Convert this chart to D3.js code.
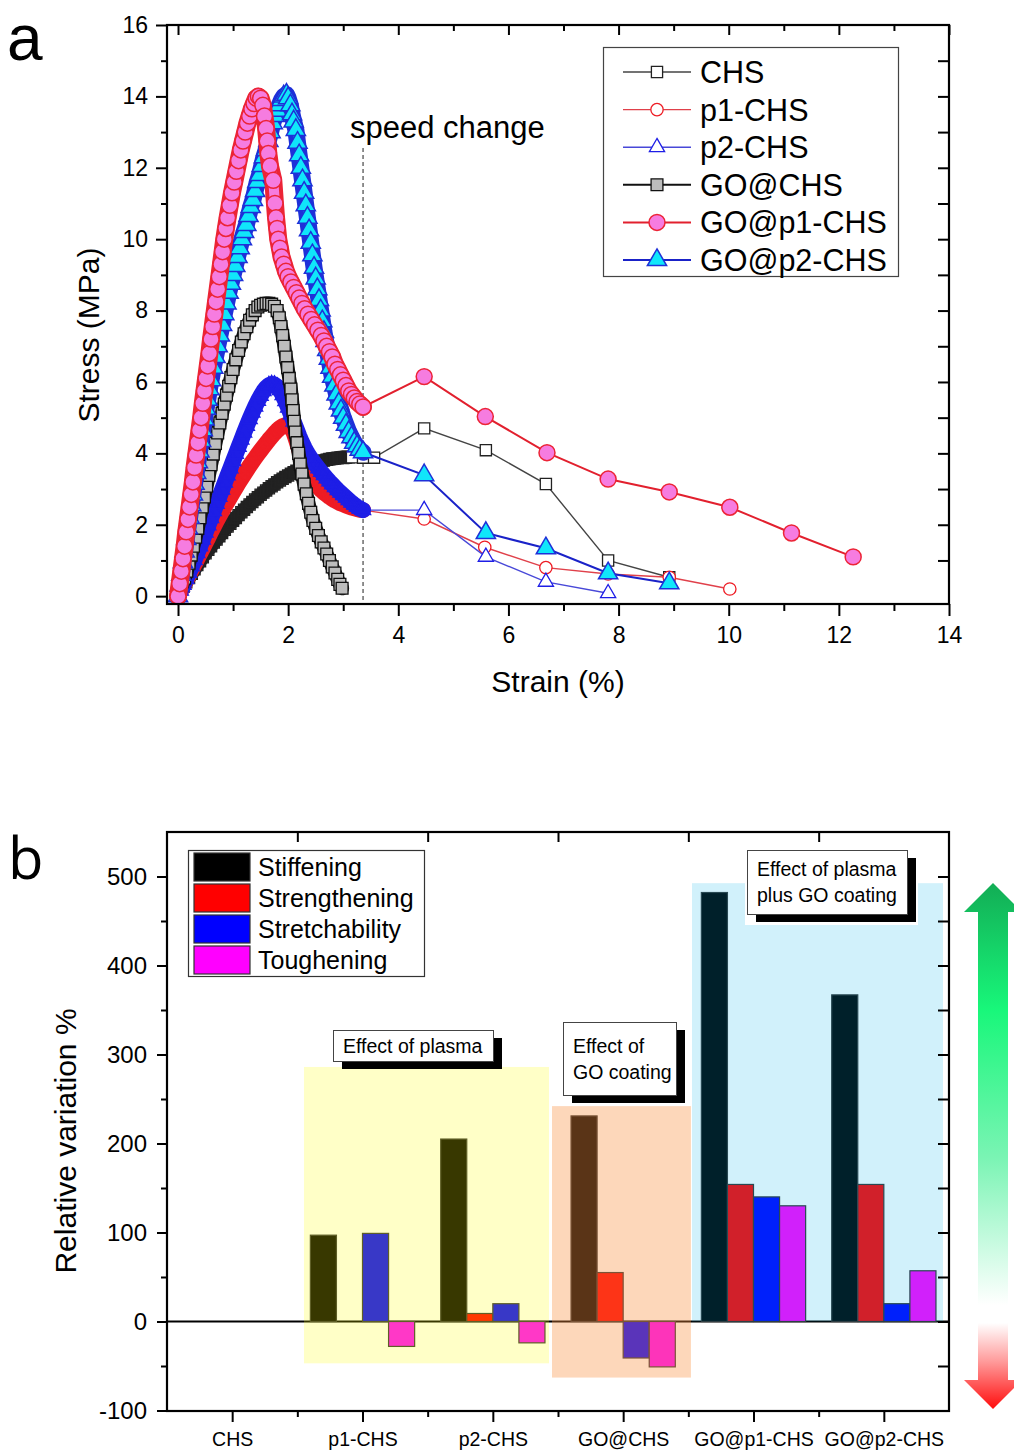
<!DOCTYPE html>
<html lang="en">
<head>
<meta charset="utf-8">
<title>Stress-strain curves and relative variation</title>
<script src="https://d3js.org/d3.v7.min.js"></script>
<style>
  body { margin: 0; background: #fff; }
  svg text { font-family: "Liberation Sans", Arial, sans-serif; fill: #000; }
</style>
</head>
<body>
<svg id="fig" width="1014" height="1452"></svg>
<script>
// ---------- panel a : stress (MPa) vs strain (%) ----------
const chs = [[0,0],[0.05,0.13],[0.1,0.26],[0.15,0.39],[0.2,0.51],[0.25,0.63],[0.3,0.75],[0.35,0.87],[0.4,0.98],[0.45,1.09],
  [0.5,1.2],[0.55,1.3],[0.6,1.4],[0.65,1.5],[0.7,1.59],[0.75,1.68],[0.8,1.77],[0.85,1.86],[0.9,1.95],[0.95,2.03],
  [1,2.11],[1.05,2.19],[1.1,2.27],[1.15,2.35],[1.2,2.42],[1.25,2.5],[1.3,2.57],[1.35,2.64],[1.4,2.71],[1.45,2.77],
  [1.5,2.84],[1.55,2.9],[1.6,2.96],[1.65,3.02],[1.7,3.08],[1.75,3.13],[1.8,3.19],[1.85,3.24],[1.9,3.29],[1.95,3.34],
  [2,3.38],[2.05,3.43],[2.1,3.47],[2.15,3.51],[2.2,3.55],[2.25,3.58],[2.3,3.62],[2.35,3.65],[2.4,3.68],[2.45,3.71],
  [2.5,3.73],[2.55,3.76],[2.6,3.78],[2.65,3.8],[2.7,3.82],[2.75,3.84],[2.8,3.85],[2.85,3.86],[2.9,3.87],[2.95,3.88],
  [3,3.89],[3.05,3.89],[3.1,3.89],[3.16,3.89],[3.36,3.88],[3.56,3.88],
  [4.47,4.7],[5.59,4.09],[6.68,3.14],[7.81,1.0],[8.92,0.53]];

const p1Chs = [[0,0],[0.05,0.14],[0.1,0.29],[0.15,0.44],[0.2,0.59],[0.25,0.74],[0.3,0.89],[0.35,1.04],[0.4,1.19],[0.45,1.34],
  [0.5,1.49],[0.55,1.64],[0.6,1.8],[0.65,1.95],[0.7,2.1],[0.75,2.24],[0.8,2.38],[0.85,2.52],[0.9,2.65],[0.95,2.78],
  [1,2.91],[1.05,3.04],[1.1,3.17],[1.15,3.29],[1.2,3.41],[1.25,3.53],[1.3,3.65],[1.35,3.76],[1.4,3.87],[1.45,3.98],
  [1.5,4.08],[1.55,4.18],[1.6,4.28],[1.65,4.38],[1.7,4.47],[1.75,4.56],[1.8,4.64],[1.85,4.71],[1.9,4.76],[1.95,4.79],
  [2,4.78],[2.05,4.72],[2.1,4.58],[2.14,4.4],[2.18,4.2],[2.22,4.0],[2.26,3.82],[2.3,3.66],[2.35,3.5],[2.4,3.36],
  [2.45,3.24],[2.5,3.14],[2.55,3.05],[2.6,2.97],[2.65,2.9],[2.7,2.84],[2.75,2.78],[2.8,2.73],[2.85,2.68],[2.9,2.64],
  [2.95,2.6],[3,2.57],[3.05,2.54],[3.1,2.51],[3.15,2.48],[3.2,2.46],[3.25,2.44],[3.3,2.42],[3.36,2.41],
  [4.47,2.16],[5.57,1.37],[6.68,0.8],[7.81,0.62],[8.92,0.53],[10.02,0.2]];

const p2Chs = [[0,0],[0.05,0.15],[0.1,0.31],[0.15,0.48],[0.2,0.65],[0.25,0.83],[0.3,1.01],[0.35,1.2],[0.4,1.39],[0.45,1.58],
  [0.5,1.78],[0.55,1.98],[0.6,2.18],[0.65,2.38],[0.7,2.58],[0.75,2.78],[0.8,2.98],[0.85,3.18],[0.9,3.38],[0.95,3.58],
  [1,3.78],[1.05,3.98],[1.1,4.18],[1.15,4.38],[1.2,4.58],[1.25,4.77],[1.3,4.96],[1.35,5.14],[1.4,5.31],[1.45,5.47],
  [1.5,5.61],[1.55,5.74],[1.6,5.84],[1.65,5.91],[1.7,5.94],[1.75,5.93],[1.8,5.87],[1.85,5.77],[1.9,5.63],[1.95,5.46],
  [2,5.28],[2.05,5.09],[2.1,4.89],[2.15,4.69],[2.2,4.49],[2.25,4.31],[2.3,4.15],[2.35,4.01],[2.4,3.89],[2.45,3.78],
  [2.5,3.68],[2.55,3.58],[2.6,3.48],[2.65,3.39],[2.7,3.3],[2.75,3.21],[2.8,3.13],[2.85,3.05],[2.9,2.97],[2.95,2.9],
  [3,2.83],[3.05,2.76],[3.1,2.69],[3.15,2.62],[3.2,2.56],[3.25,2.5],[3.3,2.45],[3.36,2.41],
  [4.47,2.41],[5.59,1.1],[6.68,0.4],[7.81,0.08]];

const goChs = [[0,0],[0.04,0.15],[0.08,0.32],[0.12,0.5],[0.16,0.7],[0.2,0.92],[0.24,1.15],[0.28,1.4],[0.32,1.65],[0.36,1.9],
  [0.4,2.2],[0.44,2.5],[0.48,2.78],[0.52,3.08],[0.56,3.38],[0.6,3.68],[0.64,3.98],[0.68,4.28],[0.72,4.57],[0.76,4.85],
  [0.8,5.12],[0.84,5.38],[0.88,5.63],[0.92,5.88],[0.96,6.12],[1,6.35],[1.05,6.62],[1.1,6.88],[1.15,7.12],[1.2,7.35],
  [1.25,7.55],[1.3,7.73],[1.35,7.88],[1.4,8.0],[1.45,8.1],[1.5,8.15],[1.55,8.18],[1.6,8.2],[1.65,8.2],[1.7,8.18],
  [1.75,8.12],[1.8,8.0],[1.84,7.8],[1.87,7.55],[1.9,7.3],[1.93,7.0],[1.96,6.7],[1.99,6.4],[2.02,6.1],[2.05,5.8],
  [2.07,5.5],[2.09,5.2],[2.11,4.9],[2.13,4.6],[2.16,4.3],[2.19,4.0],[2.22,3.7],[2.25,3.42],[2.29,3.14],[2.33,2.87],
  [2.37,2.6],[2.41,2.35],[2.45,2.12],[2.5,1.9],[2.55,1.7],[2.6,1.52],[2.65,1.35],[2.7,1.18],[2.75,1.0],[2.8,0.82],
  [2.85,0.65],[2.9,0.47],[2.94,0.33],[2.98,0.22]];

const goP1Chs = [[0,0],[0.03,0.35],[0.06,0.7],[0.09,1.05],[0.12,1.4],[0.15,1.8],[0.18,2.15],[0.21,2.5],[0.24,2.85],[0.27,3.2],
  [0.3,3.6],[0.33,3.95],[0.36,4.3],[0.39,4.65],[0.42,5.0],[0.45,5.4],[0.48,5.75],[0.51,6.1],[0.54,6.45],[0.57,6.8],
  [0.6,7.2],[0.63,7.55],[0.66,7.9],[0.69,8.25],[0.72,8.6],[0.75,8.95],[0.78,9.3],[0.81,9.65],[0.84,10.0],[0.87,10.3],
  [0.9,10.6],[0.94,10.95],[0.98,11.3],[1.02,11.6],[1.06,11.9],[1.1,12.2],[1.14,12.5],[1.18,12.75],[1.22,13.0],[1.26,13.25],
  [1.3,13.45],[1.34,13.65],[1.38,13.8],[1.42,13.95],[1.46,14.0],[1.5,13.95],[1.54,13.75],[1.57,13.45],[1.6,13.1],[1.62,12.75],
  [1.64,12.4],[1.67,12.05],[1.73,11.65],[1.76,11.0],[1.78,10.6],[1.8,10.3],[1.82,10.0],[1.85,9.75],[1.88,9.5],[1.92,9.3],
  [1.96,9.1],[2,8.95],[2.05,8.8],[2.1,8.65],[2.15,8.5],[2.2,8.35],[2.25,8.2],[2.3,8.05],[2.36,7.9],[2.42,7.75],
  [2.48,7.6],[2.54,7.45],[2.6,7.3],[2.65,7.15],[2.7,7.0],[2.75,6.85],[2.8,6.7],[2.85,6.5],[2.9,6.35],[2.95,6.2],
  [3,6.05],[3.05,5.9],[3.1,5.75],[3.15,5.65],[3.2,5.55],[3.25,5.45],[3.3,5.38],[3.36,5.3],
  [4.47,6.15],[5.58,5.03],[6.7,4.02],[7.81,3.28],[8.92,2.92],[10.02,2.49],[11.14,1.77],[12.26,1.1]];

const goP2Chs = [[0,0],[0.03,0.3],[0.06,0.6],[0.09,0.95],[0.12,1.25],[0.15,1.6],[0.18,1.9],[0.21,2.2],[0.24,2.55],[0.27,2.85],
  [0.3,3.15],[0.33,3.45],[0.36,3.75],[0.39,4.05],[0.42,4.35],[0.45,4.65],[0.48,4.95],[0.51,5.25],[0.54,5.5],[0.57,5.8],
  [0.6,6.05],[0.64,6.4],[0.68,6.7],[0.72,7.0],[0.76,7.3],[0.8,7.6],[0.84,7.9],[0.88,8.2],[0.92,8.5],[0.96,8.75],
  [1,9.0],[1.04,9.25],[1.08,9.5],[1.12,9.75],[1.16,10.0],[1.2,10.2],[1.24,10.4],[1.28,10.65],[1.32,10.9],[1.36,11.1],
  [1.4,11.35],[1.44,11.6],[1.48,11.8],[1.52,12.05],[1.56,12.3],[1.6,12.5],[1.64,12.75],[1.68,13.0],[1.72,13.25],[1.76,13.45],
  [1.8,13.6],[1.84,13.75],[1.88,13.9],[1.92,14.0],[1.97,14.05],[2,13.95],[2.04,13.75],[2.07,13.5],[2.1,13.3],[2.14,13.06],
  [2.17,12.7],[2.2,12.35],[2.23,12.0],[2.26,11.65],[2.29,11.3],[2.32,10.95],[2.35,10.6],[2.38,10.25],[2.41,9.9],[2.44,9.55],
  [2.47,9.2],[2.5,8.9],[2.53,8.6],[2.56,8.3],[2.59,8.0],[2.62,7.7],[2.65,7.4],[2.68,7.15],[2.71,6.9],[2.74,6.65],
  [2.77,6.4],[2.8,6.15],[2.84,5.9],[2.88,5.65],[2.92,5.4],[2.96,5.2],[3,5.0],[3.05,4.8],[3.1,4.6],[3.15,4.45],
  [3.2,4.3],[3.25,4.2],[3.3,4.1],[3.36,4.03],
  [4.47,3.39],[5.59,1.77],[6.68,1.34],[7.81,0.64],[8.92,0.36]];

const seriesNames = ["CHS", "p1-CHS", "p2-CHS", "GO@CHS", "GO@p1-CHS", "GO@p2-CHS"];
const strainTicks = [0, 2, 4, 6, 8, 10, 12, 14];
const strainMinor = [1, 3, 5, 7, 9, 11, 13];
const stressTicks = [0, 2, 4, 6, 8, 10, 12, 14, 16];
const stressMinor = [1, 3, 5, 7, 9, 11, 13, 15];
const speedChange = 3.36;

// ---------- panel b : relative variation % ----------
const categories = ["CHS", "p1-CHS", "p2-CHS", "GO@CHS", "GO@p1-CHS", "GO@p2-CHS"];
const properties = ["Stiffening", "Strengthening", "Stretchability", "Toughening"];
const stiffening     = [0,  97, 205, 231, 482, 367];
const strengthening  = [0,   0,   9,  55, 154, 154];
const stretchability = [0,  99,  20, -41, 140,  20];
const toughening     = [0, -28, -24, -51, 130,  57];
const relTicks = [-100, 0, 100, 200, 300, 400, 500];
const relMinor = [-50, 50, 150, 250, 350, 450];

const svg = d3.select("#fig");

// helper: axis drawn without its domain line (frame is drawn separately)
function axis(g, gen, vals, size, fmt, pad, fs) {
  const a = gen.tickValues(vals).tickSize(size).tickSizeOuter(0).tickPadding(pad)
    .tickFormat(fmt || (() => ""));
  g.call(a);
  g.select(".domain").remove();
  g.selectAll(".tick line").attr("stroke", "#000").attr("stroke-width", 2);
  g.selectAll(".tick text").attr("font-size", fs || 22).attr("font-family", "Liberation Sans, Arial, sans-serif").attr("fill", "#000");
  return g;
}

// ================= PANEL A =================
const xA = d3.scaleLinear().domain([-0.2, 14]).range([167, 949]);
const yA = d3.scaleLinear().domain([-0.22, 16]).range([604, 25]);

const gA = svg.append("g");

// dense: points recorded before the speed change, drawn as a packed band of markers
const styleA = {
  "CHS":       {data: chs,     dense: 3.1,  sym: d3.symbolSquare,   size: 125, fill: "#fff",    stroke: "#222",    sw: 1.3, line: "#444",    lw: 1.4, band: 14, inner: 0},
  "p1-CHS":    {data: p1Chs,   dense: 3.36, sym: d3.symbolCircle,   size: 120, fill: "#fff",    stroke: "#ee1c24", sw: 1.3, line: "#e0404a", lw: 1.4, band: 16, inner: 0},
  "p2-CHS":    {data: p2Chs,   dense: 3.36, sym: d3.symbolTriangle, size: 100, fill: "#fff",    stroke: "#1e1ee6", sw: 1.3, line: "#4848d8", lw: 1.4, band: 16, inner: 0},
  "GO@CHS":    {data: goChs,   dense: 3.0,  sym: d3.symbolSquare,   size: 140, fill: "#bdbdbd", stroke: "#111",    sw: 1.3, line: "#111",    lw: 2,   band: 14, inner: 4},
  "GO@p1-CHS": {data: goP1Chs, dense: 3.36, sym: d3.symbolCircle,   size: 200, fill: "#f67ce0", stroke: "#ec2436", sw: 1.5, line: "#e2202e", lw: 2,   band: 18, inner: 10},
  "GO@p2-CHS": {data: goP2Chs, dense: 3.36, sym: d3.symbolTriangle, size: 160, fill: "#10e6fa", stroke: "#1f30d8", sw: 1.5, line: "#1a22c8", lw: 2,   band: 17, inner: 6}
};
const drawOrder = ["CHS", "p1-CHS", "p2-CHS", "GO@CHS", "GO@p2-CHS", "GO@p1-CHS"];

// speed change marker
gA.append("line")
  .attr("x1", xA(speedChange)).attr("x2", xA(speedChange))
  .attr("y1", 148).attr("y2", 604)
  .attr("stroke", "#555").attr("stroke-width", 1.3).attr("stroke-dasharray", "4,3");
gA.append("text").attr("x", 350).attr("y", 138).attr("font-size", 31).text("speed change");

const line = d3.line().x(d => xA(d[0])).y(d => yA(d[1]));
drawOrder.forEach(name => {
  const s = styleA[name];
  const g = gA.append("g");
  const dense = s.data.filter(d => d[0] <= s.dense);
  const sparse = s.data.filter(d => d[0] > s.dense);
  g.append("path").attr("d", line(s.data)).attr("fill", "none")
    .attr("stroke", s.line).attr("stroke-width", s.lw);
  // packed band of the dense markers
  g.append("path").attr("d", line(dense)).attr("fill", "none")
    .attr("stroke", s.stroke).attr("stroke-width", s.band)
    .attr("stroke-linejoin", "round").attr("stroke-linecap", "round");
  if (s.inner) g.append("path").attr("d", line(dense)).attr("fill", "none")
    .attr("stroke", s.fill).attr("stroke-width", s.inner)
    .attr("stroke-linejoin", "round").attr("stroke-linecap", "round");
  g.selectAll("path.d").data(dense).enter().append("path")
    .attr("class", "d")
    .attr("d", d3.symbol().type(s.sym).size(s.size))
    .attr("transform", d => `translate(${xA(d[0])},${yA(d[1])})`)
    .attr("fill", s.inner ? s.fill : "none").attr("stroke", s.stroke).attr("stroke-width", s.sw);
  g.selectAll("path.s").data(sparse).enter().append("path")
    .attr("class", "s")
    .attr("d", d3.symbol().type(s.sym).size(s.size))
    .attr("transform", d => `translate(${xA(d[0])},${yA(d[1])})`)
    .attr("fill", s.fill).attr("stroke", s.stroke).attr("stroke-width", s.sw);
});

// frame + axes
gA.append("rect").attr("x", 167).attr("y", 25).attr("width", 782).attr("height", 579)
  .attr("fill", "none").attr("stroke", "#000").attr("stroke-width", 2.2);
axis(gA.append("g").attr("transform", "translate(0,604)"), d3.axisBottom(xA), strainTicks, 12, d => d, 11, 23);
axis(gA.append("g").attr("transform", "translate(0,604)"), d3.axisBottom(xA), strainMinor, 7);
axis(gA.append("g").attr("transform", "translate(0,25)"), d3.axisBottom(xA), strainTicks, 10);
axis(gA.append("g").attr("transform", "translate(0,25)"), d3.axisBottom(xA), strainMinor, 6);
axis(gA.append("g").attr("transform", "translate(167,0)"), d3.axisLeft(yA), stressTicks, 11, d => d, 8, 23);
axis(gA.append("g").attr("transform", "translate(167,0)"), d3.axisLeft(yA), stressMinor, 6);
axis(gA.append("g").attr("transform", "translate(949,0)"), d3.axisLeft(yA), stressTicks.slice(1, -1).concat(stressMinor), 11);

gA.append("text").attr("x", 558).attr("y", 692).attr("text-anchor", "middle").attr("font-size", 30).text("Strain (%)");
gA.append("text").attr("transform", "translate(99,335) rotate(-90)").attr("text-anchor", "middle")
  .attr("font-size", 30).text("Stress (MPa)");
gA.append("text").attr("x", 7).attr("y", 60).attr("font-size", 64).text("a");

// legend a
const legA = gA.append("g");
legA.append("rect").attr("x", 603.5).attr("y", 47.5).attr("width", 295).attr("height", 229)
  .attr("fill", "#fff").attr("stroke", "#444").attr("stroke-width", 1.2);
seriesNames.forEach((name, i) => {
  const s = styleA[name];
  const cy = 72 + i * 37.6;
  legA.append("line").attr("x1", 623).attr("x2", 691).attr("y1", cy).attr("y2", cy)
    .attr("stroke", s.line).attr("stroke-width", s.lw);
  legA.append("path").attr("d", d3.symbol().type(s.sym).size(s.size)())
    .attr("transform", `translate(657,${cy})`)
    .attr("fill", s.fill).attr("stroke", s.stroke).attr("stroke-width", s.sw);
  legA.append("text").attr("x", 700).attr("y", cy).attr("dy", "0.36em").attr("font-size", 30.5).text(name);
});

// ================= PANEL B =================
const xB = d3.scaleLinear().domain([0.5, 6.5]).range([167, 949]);
const yB = d3.scaleLinear().domain([-100, 550]).range([1410.5, 832]);
const gB = svg.append("g");

const propValues = [stiffening, strengthening, stretchability, toughening];
const propColors = ["#000000", "#ff0000", "#0000ff", "#ff00ff"];

// zero line
gB.append("line").attr("x1", 167).attr("x2", 949).attr("y1", yB(0)).attr("y2", yB(0))
  .attr("stroke", "#000").attr("stroke-width", 2);

const barW = xB(1.2) - xB(1);
const bars = [];
categories.forEach((c, i) => properties.forEach((p, j) => bars.push({c: i + 1, j, v: propValues[j][i]})));
gB.selectAll("rect.bar").data(bars.filter(b => b.v !== 0)).enter().append("rect")
  .attr("class", "bar")
  .attr("x", d => xB(d.c - 0.4 + 0.2 * d.j))
  .attr("width", barW)
  .attr("y", d => yB(Math.max(d.v, 0)))
  .attr("height", d => Math.abs(yB(d.v) - yB(0)))
  .attr("fill", d => propColors[d.j])
  .attr("stroke", "#333").attr("stroke-width", 1.2);

// translucent effect regions (data units)
const regions = [
  {x0: 1.551, x1: 3.431, y0: -47, y1: 286, color: "#ffff00", op: 0.22},
  {x0: 3.454, x1: 4.52,  y0: -63, y1: 242, color: "#f98f40", op: 0.36},
  {x0: 4.528, x1: 6.454, y0: 0,   y1: 492.5, color: "#00b0e8", op: 0.18}
];
gB.selectAll("rect.reg").data(regions).enter().append("rect")
  .attr("x", d => xB(d.x0)).attr("width", d => xB(d.x1) - xB(d.x0))
  .attr("y", d => yB(d.y1)).attr("height", d => yB(d.y0) - yB(d.y1))
  .attr("fill", d => d.color).attr("fill-opacity", d => d.op);

// annotation boxes with drop shadow
function note(x, y, w, h, lines, clear) {
  if (clear) gB.append("rect").attr("x", x - 2).attr("y", y).attr("width", w + 13).attr("height", h + 11).attr("fill", "#fff");
  gB.append("rect").attr("x", x + 9).attr("y", y + 8).attr("width", w).attr("height", h).attr("fill", "#000");
  gB.append("rect").attr("x", x + 0.5).attr("y", y + 0.5).attr("width", w).attr("height", h)
    .attr("fill", "#fff").attr("stroke", "#444").attr("stroke-width", 1);
  lines.forEach((t, k) => gB.append("text").attr("x", x + 10)
    .attr("y", y + h / 2 + (k - (lines.length - 1) / 2) * 26).attr("dy", "0.36em")
    .attr("font-size", 19.5).text(t));
}
note(333, 1030, 160, 31, ["Effect of plasma"]);
note(563, 1022, 113, 73, ["Effect of", "GO coating"]);
note(747, 850, 160, 64, ["Effect of plasma", "plus GO coating"], true);

// frame + axes b
gB.append("rect").attr("x", 167).attr("y", 832).attr("width", 782).attr("height", 579)
  .attr("fill", "none").attr("stroke", "#000").attr("stroke-width", 2.2);
const catPos = categories.map((c, i) => i + 1);
const bounds = [1.5, 2.5, 3.5, 4.5, 5.5];
axis(gB.append("g").attr("transform", "translate(0,1411)"), d3.axisBottom(xB), catPos, 11, d => categories[d - 1], 10, 19.5);
axis(gB.append("g").attr("transform", "translate(0,1411)"), d3.axisBottom(xB), bounds, 6);
axis(gB.append("g").attr("transform", "translate(0,832)"), d3.axisBottom(xB), bounds, 10);
axis(gB.append("g").attr("transform", "translate(167,0)"), d3.axisLeft(yB), relTicks, 10, d => String(d), 10, 24);
axis(gB.append("g").attr("transform", "translate(167,0)"), d3.axisLeft(yB), relMinor, 6);
axis(gB.append("g").attr("transform", "translate(949,0)"), d3.axisLeft(yB), relTicks.slice(1).concat(relMinor), 11);

gB.append("text").attr("transform", "translate(76,1141) rotate(-90)").attr("text-anchor", "middle")
  .attr("font-size", 30).text("Relative variation %");
gB.append("text").attr("x", 8).attr("y", 879).attr("font-size", 58)
  .style("font-family", "'Open Sans', 'Liberation Sans', sans-serif").text("b");

// legend b
const legB = gB.append("g");
legB.append("rect").attr("x", 188.5).attr("y", 850.5).attr("width", 236).attr("height", 126)
  .attr("fill", "#fff").attr("stroke", "#333").attr("stroke-width", 1.2);
properties.forEach((p, j) => {
  const y = 853 + j * 31;
  legB.append("rect").attr("x", 194).attr("y", y).attr("width", 56).attr("height", 28)
    .attr("fill", propColors[j]).attr("stroke", "#333").attr("stroke-width", 1.2);
  legB.append("text").attr("x", 258).attr("y", y + 14).attr("dy", "0.36em").attr("font-size", 25).text(p);
});

// gradient arrows on the right
const defs = svg.append("defs");
const gUp = defs.append("linearGradient").attr("id", "gUp").attr("x1", 0).attr("y1", 0).attr("x2", 0).attr("y2", 1);
[[0, "#12ad55"], [0.3, "#18f77a"], [0.65, "#7af4b4"], [1, "#ffffff"]].forEach(s =>
  gUp.append("stop").attr("offset", s[0]).attr("stop-color", s[1]));
const gDn = defs.append("linearGradient").attr("id", "gDn").attr("x1", 0).attr("y1", 0).attr("x2", 0).attr("y2", 1);
[[0, "#ffffff"], [0.45, "#ff9a9a"], [1, "#ff0d0d"]].forEach(s =>
  gDn.append("stop").attr("offset", s[0]).attr("stop-color", s[1]));

const ax = 993;
svg.append("path").attr("fill", "url(#gUp)")
  .attr("d", `M${ax},883 L${ax + 29},912 L${ax + 15},912 L${ax + 15},1305 L${ax - 15},1305 L${ax - 15},912 L${ax - 29},912 Z`);
svg.append("path").attr("fill", "url(#gDn)")
  .attr("d", `M${ax - 15},1323 L${ax + 15},1323 L${ax + 15},1380 L${ax + 29},1380 L${ax},1409 L${ax - 29},1380 L${ax - 15},1380 Z`);
</script>
</body>
</html>
